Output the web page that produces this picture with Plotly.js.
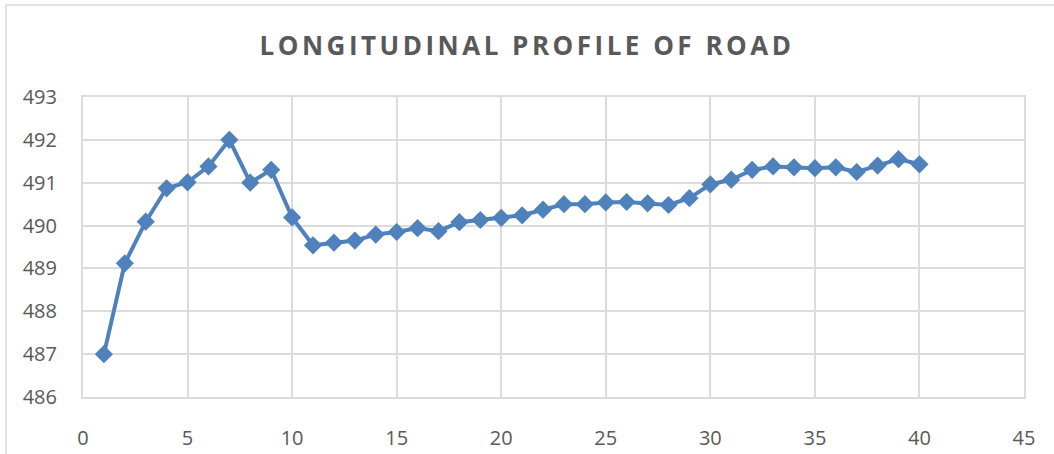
<!DOCTYPE html>
<html>
<head>
<meta charset="utf-8">
<script src="https://cdn.plot.ly/plotly-3.0.1.min.js"></script>
<style>
html,body{margin:0;padding:0;background:#fff;}
#chart{width:1054px;height:454px;}
.gtitle{letter-spacing:3.5px;}
</style>
</head>
<body>
<div id="chart"></div>
<script>
const chainage = [1,2,3,4,5,6,7,8,9,10,11,12,13,14,15,16,17,18,19,20,21,22,23,24,25,26,27,28,29,30,31,32,33,34,35,36,37,38,39,40];
const elevation = [487.0,489.12,490.09,490.87,491.01,491.38,492.0,491.0,491.3,490.19,
  489.54,489.6,489.65,489.79,489.85,489.94,489.87,490.08,490.13,490.18,
  490.24,490.37,490.5,490.5,490.54,490.55,490.52,490.48,490.64,490.96,
  491.07,491.3,491.38,491.36,491.34,491.36,491.25,491.4,491.55,491.43];
const titleText = 'LONGITUDINAL PROFILE OF ROAD';
const xTicks = [0,5,10,15,20,25,30,35,40,45];
const yTicks = [486,487,488,489,490,491,492,493];

const trace = {
  x: chainage, y: elevation, type: 'scatter', mode: 'lines+markers',
  line: {color: '#4F81BD', width: 4},
  marker: {symbol: 'diamond', size: 14, color: '#4F81BD'},
  hoverinfo: 'x+y'
};
const grid = '#DCDCDC';
const layout = {
  width: 1054, height: 454,
  margin: {l: 83, r: 30, t: 97, b: 57},
  paper_bgcolor: '#fff', plot_bgcolor: '#fff',
  showlegend: false,
  font: {family: '"Open Sans", sans-serif', color: '#595959'},
  title: {text: titleText, x: 0.5, xref: 'container', xanchor: 'center',
          y: 1 - 46/454, yref: 'container', yanchor: 'middle',
          font: {family: '"Open Sans", sans-serif', size: 26, color: '#595959', weight: 'bold'}},
  xaxis: {range: [0, 45], tickvals: xTicks, ticktext: xTicks.map(String),
          showgrid: true, gridcolor: grid, gridwidth: 2,
          showline: true, linecolor: grid, linewidth: 2, mirror: true,
          zeroline: false, ticks: '', ticklabelstandoff: 22,
          tickfont: {size: 20, color: '#595959'}},
  yaxis: {range: [486, 493], tickvals: yTicks, ticktext: yTicks.map(String),
          showgrid: true, gridcolor: grid, gridwidth: 2,
          showline: true, linecolor: grid, linewidth: 2, mirror: true,
          zeroline: false, ticks: '', ticklabelstandoff: 20,
          tickfont: {size: 20, color: '#595959'}},
  shapes: [{type: 'rect', xref: 'paper', yref: 'paper',
            x0: (6-83)/941, x1: (1070-83)/941, y0: (397-470)/300, y1: (397-5)/300,
            line: {color: '#D9D9D9', width: 1.5}, fillcolor: 'rgba(0,0,0,0)', layer: 'below'}]
};
Plotly.newPlot('chart', [trace], layout, {displayModeBar: false, staticPlot: true});
</script>
</body>
</html>
